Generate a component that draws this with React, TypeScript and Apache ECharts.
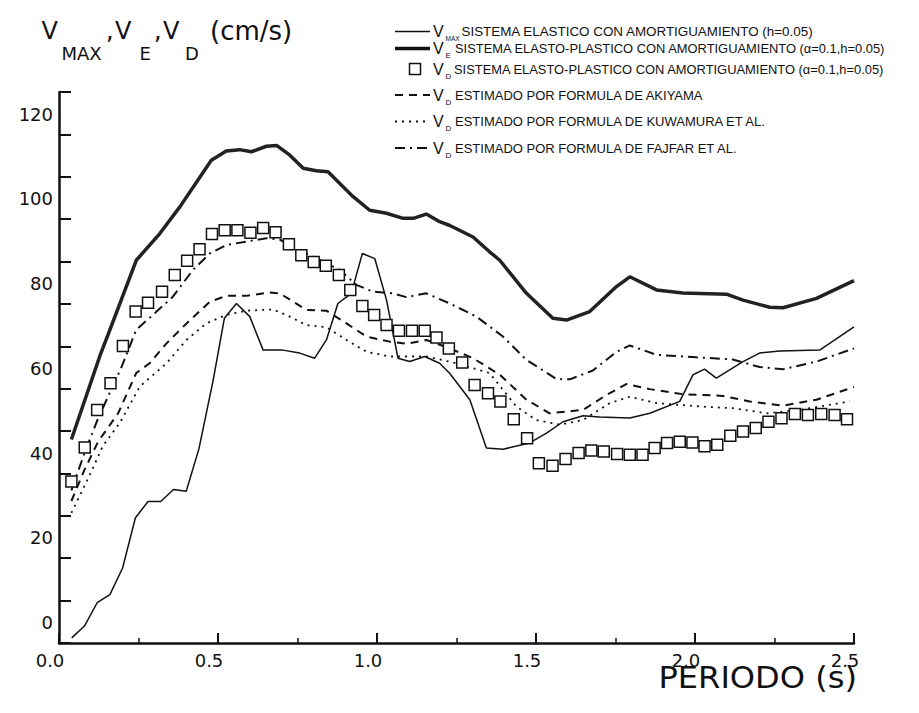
import React, { useEffect, useRef } from "react";
import * as echarts from "echarts";

// V_MAX: sistema elastico (h=0.05)
const tVmax = [0.04, 0.08, 0.12, 0.16, 0.2, 0.24, 0.28, 0.32, 0.36, 0.4, 0.44, 0.485, 0.52, 0.558, 0.6, 0.642, 0.704, 0.757, 0.804, 0.841, 0.877, 0.919, 0.954, 0.993, 1.03, 1.066, 1.103, 1.15, 1.197, 1.229, 1.292, 1.344, 1.396, 1.48, 1.533, 1.585, 1.648, 1.7, 1.795, 1.858, 1.952, 1.994, 2.03, 2.067, 2.151, 2.203, 2.266, 2.392, 2.5];
const vMax = [-8.8, -6.0, -0.5, 1.4, 7.7, 19.5, 23.4, 23.4, 26.2, 25.8, 35.8, 52.1, 66.6, 70.1, 67.0, 59.1, 59.1, 58.4, 57.2, 61.5, 70.1, 72.5, 81.9, 80.7, 70.9, 57.2, 56.4, 57.6, 56.0, 53.6, 47.4, 36.0, 35.7, 37.2, 39.5, 42.2, 43.6, 43.3, 43.1, 44.2, 47.0, 53.3, 54.6, 52.5, 56.4, 58.4, 58.9, 59.1, 64.6];

// V_E: sistema elasto-plastico
const tVe = [0.039, 0.128, 0.16, 0.243, 0.317, 0.38, 0.479, 0.526, 0.568, 0.605, 0.652, 0.684, 0.726, 0.768, 0.809, 0.846, 0.925, 0.977, 1.03, 1.082, 1.114, 1.155, 1.197, 1.229, 1.302, 1.354, 1.386, 1.47, 1.553, 1.596, 1.669, 1.753, 1.795, 1.879, 1.962, 2.099, 2.151, 2.235, 2.277, 2.382, 2.5];
const vE = [38.0, 57.6, 63.9, 80.3, 86.6, 92.9, 103.9, 106.1, 106.4, 105.9, 107.2, 107.4, 105.1, 102.0, 101.4, 101.2, 95.3, 92.1, 91.4, 90.2, 90.2, 91.2, 89.4, 88.5, 85.8, 82.3, 80.3, 72.5, 66.6, 66.2, 68.2, 74.1, 76.4, 73.3, 72.6, 72.3, 70.9, 69.2, 69.1, 71.3, 75.5];

// V_D: sistema elasto-plastico (squares)
const tVd = [0.039, 0.081, 0.12, 0.162, 0.201, 0.241, 0.28, 0.324, 0.364, 0.403, 0.442, 0.481, 0.521, 0.561, 0.602, 0.642, 0.681, 0.723, 0.762, 0.801, 0.839, 0.88, 0.916, 0.954, 0.991, 1.03, 1.069, 1.11, 1.15, 1.187, 1.226, 1.268, 1.307, 1.349, 1.388, 1.43, 1.472, 1.509, 1.552, 1.593, 1.634, 1.674, 1.713, 1.755, 1.795, 1.835, 1.873, 1.912, 1.952, 1.992, 2.03, 2.07, 2.111, 2.151, 2.191, 2.231, 2.272, 2.314, 2.355, 2.397, 2.439, 2.478];
const vD = [28.1, 36.1, 45.0, 51.3, 60.1, 68.2, 70.3, 72.9, 76.8, 80.2, 82.9, 86.5, 87.4, 87.4, 86.8, 87.9, 86.9, 84.1, 81.5, 79.9, 79.0, 76.8, 73.3, 69.5, 67.4, 65.0, 63.7, 63.7, 63.7, 62.1, 59.5, 56.2, 50.9, 48.9, 47.0, 42.8, 38.3, 32.4, 31.8, 33.4, 34.8, 35.4, 35.2, 34.6, 34.4, 34.4, 36.0, 37.2, 37.5, 37.3, 36.4, 36.8, 38.9, 39.9, 40.7, 42.2, 43.0, 44.0, 43.8, 44.0, 43.8, 42.8];

// V_D estimado por formula de Akiyama
const tAkiyama = [0.039, 0.081, 0.123, 0.186, 0.243, 0.285, 0.338, 0.401, 0.474, 0.526, 0.589, 0.662, 0.694, 0.778, 0.841, 0.904, 0.967, 1.04, 1.092, 1.155, 1.229, 1.302, 1.386, 1.47, 1.543, 1.648, 1.721, 1.784, 1.858, 1.962, 2.088, 2.172, 2.277, 2.382, 2.5];
const vAkiyama = [23.5, 31.0, 37.5, 44.2, 53.7, 56.0, 60.7, 65.4, 70.5, 71.9, 71.9, 72.7, 72.5, 68.6, 68.4, 65.4, 62.3, 61.1, 60.6, 61.5, 59.5, 57.2, 53.3, 47.4, 44.2, 45.0, 48.5, 51.1, 49.9, 48.7, 48.3, 47.0, 46.0, 47.4, 50.4];

// V_D estimado por formula de Kuwamura et al.
const tKuwamura = [0.039, 0.097, 0.138, 0.191, 0.254, 0.338, 0.401, 0.463, 0.526, 0.589, 0.673, 0.726, 0.778, 0.841, 0.904, 0.967, 1.04, 1.092, 1.155, 1.25, 1.354, 1.438, 1.501, 1.575, 1.648, 1.732, 1.795, 1.879, 2.015, 2.119, 2.225, 2.329, 2.487];
const vKuwamura = [20.7, 29.7, 36.5, 41.9, 50.5, 56.0, 61.5, 65.4, 67.4, 68.4, 68.7, 67.0, 65.0, 64.5, 61.5, 58.7, 57.6, 57.6, 57.6, 56.0, 53.7, 45.8, 42.6, 41.5, 42.6, 46.6, 48.1, 46.6, 45.8, 45.4, 44.2, 45.0, 47.0];

// V_D estimado por formula de Fajfar et al.
const tFajfar = [0.039, 0.081, 0.123, 0.196, 0.243, 0.301, 0.358, 0.421, 0.474, 0.526, 0.589, 0.652, 0.694, 0.757, 0.83, 0.883, 0.935, 0.987, 1.05, 1.092, 1.155, 1.229, 1.313, 1.396, 1.47, 1.564, 1.606, 1.679, 1.753, 1.795, 1.879, 2.004, 2.119, 2.203, 2.277, 2.382, 2.5];
const vFajfar = [26.0, 35.0, 43.0, 55.0, 63.9, 67.8, 71.7, 78.0, 81.9, 83.9, 84.7, 85.5, 85.2, 82.7, 80.0, 78.0, 74.5, 72.9, 72.5, 71.6, 72.5, 70.1, 67.0, 62.3, 56.8, 52.3, 52.2, 54.3, 58.7, 60.2, 58.0, 57.4, 56.9, 55.1, 54.6, 56.4, 59.5];

// y-axis tick labels
const yLabelValues = [0, 20, 40, 60, 80, 100, 120];

const legendTexts = [
  { sub: "MAX", text: "SISTEMA ELASTICO CON AMORTIGUAMIENTO (h=0.05)" },
  { sub: "E", text: "SISTEMA ELASTO-PLASTICO CON AMORTIGUAMIENTO (\u03b1=0.1,h=0.05)" },
  { sub: "D", text: "SISTEMA ELASTO-PLASTICO CON AMORTIGUAMIENTO (\u03b1=0.1,h=0.05)" },
  { sub: "D", text: "ESTIMADO POR FORMULA DE AKIYAMA" },
  { sub: "D", text: "ESTIMADO POR FORMULA DE KUWAMURA ET AL." },
  { sub: "D", text: "ESTIMADO POR FORMULA DE FAJFAR ET AL." },
];

const zip = (t: number[], v: number[]) => t.map((x, i) => [x, v[i]]);

const DASHED = [8, 6];
const DOTTED = [2, 5];
const DASHDOT = [10, 5, 2, 5];

function txt(x: number, y: number, text: string, size: number, family: string, extra: any = {}) {
  const { align, ...rest } = extra;
  return {
    type: "text",
    x,
    y,
    ...rest,
    style: {
      text,
      fontSize: size,
      fontFamily: family,
      fill: "#111",
      align: align || "left",
      verticalAlign: "middle",
      textAlign: align || "left",
      textVerticalAlign: "middle",
    },
  };
}

export default function App() {
  const ref = useRef<HTMLDivElement>(null);
  useEffect(() => {
    const chart = echarts.init(ref.current!, null, { renderer: "svg" });
    const F = "DejaVu Sans";
    const L = "Liberation Sans";
    const rowsY = [31.5, 48.5, 69, 95, 121.5, 148];
    const textX = [461.5, 455, 454, 455, 455, 455];
    const textSize = [13.4, 12.9, 12.9, 13, 13, 13];
    const legendEls: any[] = [];
    rowsY.forEach((y, i) => {
      if (i === 2) {
        legendEls.push({
          type: "rect",
          shape: { x: 409.5, y: y - 5.5, width: 11, height: 11 },
          style: { fill: "#fff", stroke: "#111", lineWidth: 1.5 },
        });
      } else {
        const styles: any[] = [
          { lineWidth: 1.5 },
          { lineWidth: 3.5 },
          null,
          { lineWidth: 2, lineDash: DASHED },
          { lineWidth: 1.8, lineDash: DOTTED },
          { lineWidth: 2, lineDash: DASHDOT },
        ];
        legendEls.push({
          type: "line",
          shape: { x1: 395, y1: y, x2: 430, y2: y },
          style: { stroke: "#111", ...styles[i] },
        });
      }
      legendEls.push(txt(433, y, "V", 16, L));
      legendEls.push(txt(445.5, y + 7, legendTexts[i].sub, legendTexts[i].sub.length > 1 ? 6.5 : 8, L));
      legendEls.push(txt(textX[i], y, legendTexts[i].text, textSize[i], L));
    });

    const titleEls = [
      txt(41.5, 31, "V", 24, F),
      txt(61.5, 53, "MAX", 18, F),
      txt(106, 31, ",", 24, F),
      txt(115, 31, "V", 24, F),
      txt(139.5, 53, "E", 18, F),
      txt(154, 31, ",", 24, F),
      txt(163, 31, "V", 24, F),
      txt(185, 53, "D", 18, F),
      txt(210, 31, "(cm/s)", 26, F),
      txt(857, 677.5, "PERIODO (s)", 30, F, { align: "right", scaleX: 1.07 }),
    ];

    chart.setOption({
      animation: false,
      backgroundColor: "#fff",
      grid: { left: 59, top: 92, right: 65, bottom: 70, containLabel: false },
      xAxis: {
        type: "value",
        min: 0,
        max: 2.5,
        interval: 0.5,
        axisLine: { show: true, onZero: false, lineStyle: { color: "#111", width: 2.5 } },
        axisTick: { show: true, inside: true, length: 10, lineStyle: { color: "#111", width: 2 } },
        minorTick: { show: true, splitNumber: 2, length: 5, lineStyle: { color: "#111", width: 1.5 } },
        splitLine: { show: false },
        minorSplitLine: { show: false },
        axisLabel: {
          formatter: (v: number) => v.toFixed(1),
          fontFamily: F,
          fontSize: 18,
          color: "#111",
          margin: 8,
          padding: [0, 18, 0, 0],
        },
      },
      yAxis: {
        type: "value",
        min: -10,
        max: 120,
        interval: 10,
        axisLine: { show: true, onZero: false, lineStyle: { color: "#111", width: 2.5 } },
        axisTick: { show: true, inside: true, length: 12, lineStyle: { color: "#111", width: 2 } },
        splitLine: { show: false },
        axisLabel: { show: false },
      },
      series: [
        {
          name: "V_MAX",
          type: "line",
          data: zip(tVmax, vMax),
          showSymbol: false,
          lineStyle: { color: "#111", width: 1.5 },
          z: 3,
        },
        {
          name: "V_E",
          type: "line",
          data: zip(tVe, vE),
          showSymbol: false,
          lineStyle: { color: "#222", width: 3.5 },
          z: 3,
        },
        {
          name: "Akiyama",
          type: "line",
          data: zip(tAkiyama, vAkiyama),
          showSymbol: false,
          lineStyle: { color: "#111", width: 2, type: DASHED },
          z: 3,
        },
        {
          name: "Kuwamura",
          type: "line",
          data: zip(tKuwamura, vKuwamura),
          showSymbol: false,
          lineStyle: { color: "#111", width: 1.8, type: DOTTED },
          z: 3,
        },
        {
          name: "Fajfar",
          type: "line",
          data: zip(tFajfar, vFajfar),
          showSymbol: false,
          lineStyle: { color: "#111", width: 2, type: DASHDOT },
          z: 3,
        },
        {
          name: "V_D",
          type: "scatter",
          data: zip(tVd, vD),
          symbol: "rect",
          symbolSize: 11,
          itemStyle: { color: "#fff", borderColor: "#111", borderWidth: 1.5, opacity: 1 },
          z: 5,
        },
      ],
    });

    // y tick labels, placed through the axis scale (drawn offset below their ticks as in the scan)
    const yLabelEls = yLabelValues.map((v) => {
      const p = chart.convertToPixel({ xAxisIndex: 0, yAxisIndex: 0 }, [0, v]) as number[];
      return txt(p[0] - 6, p[1] + 22, String(v), 18, F, { align: "right" });
    });

    chart.setOption({ graphic: [...titleEls, ...legendEls, ...yLabelEls] });
    return () => chart.dispose();
  }, []);
  return (
    <div
      ref={ref}
      style={{ position: "absolute", left: 0, top: 0, width: 919, height: 713, background: "#fff" }}
    />
  );
}
